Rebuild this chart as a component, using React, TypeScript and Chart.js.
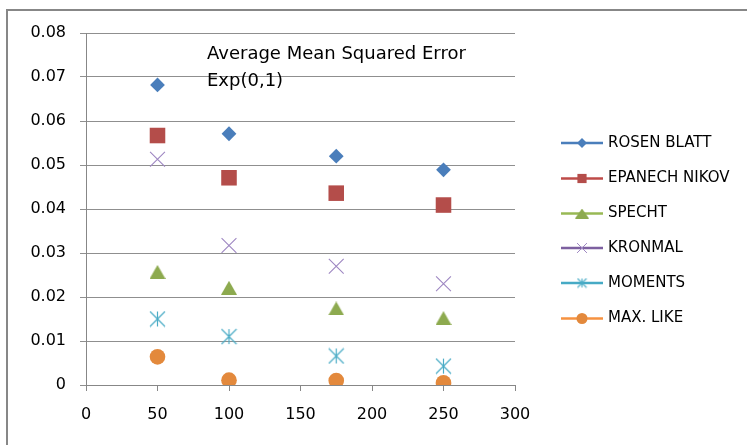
import React, { useEffect, useRef } from 'react';
import { Chart, registerables } from 'chart.js';
import { drawPoint } from 'chart.js/helpers';

Chart.register(...registerables);

// ---- data ----
const xValues = [50, 100, 175, 250];
const seriesNames = ['ROSEN BLATT', 'EPANECH NIKOV', 'SPECHT', 'KRONMAL', 'MOMENTS', 'MAX. LIKE'];
const rosenBlatt = [0.0682, 0.0571, 0.0520, 0.0489];
const epanechNikov = [0.0567, 0.0471, 0.0436, 0.0409];
const specht = [0.0257, 0.0221, 0.0174, 0.0152];
const kronmal = [0.0513, 0.0317, 0.0270, 0.0230];
const moments = [0.0150, 0.0110, 0.0066, 0.0043];
const maxLike = [0.0064, 0.0011, 0.0010, 0.0005];
const titleLines = ['Average Mean Squared Error', 'Exp(0,1)'];
const xTickMin = 0;
const xTickMax = 300;
const xTickStep = 50;
const yTickMin = 0;
const yTickMax = 0.08;
const yTickStep = 0.01;

const FONT = '"DejaVu Sans", "Open Sans", sans-serif';

function makeStar(size: number, color: string, lw: number): HTMLCanvasElement {
  const c = document.createElement('canvas');
  c.width = size;
  c.height = size;
  const ctx = c.getContext('2d')!;
  ctx.strokeStyle = color;
  ctx.lineWidth = lw;
  const m = size / 2;
  const r = size / 2 - 1;
  ctx.beginPath();
  ctx.moveTo(m, m - r);
  ctx.lineTo(m, m + r);
  ctx.moveTo(m - r, m - r);
  ctx.lineTo(m + r, m + r);
  ctx.moveTo(m - r, m + r);
  ctx.lineTo(m + r, m - r);
  ctx.stroke();
  return c;
}

function makeTriangle(w: number, h: number, color: string): HTMLCanvasElement {
  const c = document.createElement('canvas');
  c.width = w;
  c.height = h;
  const ctx = c.getContext('2d')!;
  ctx.fillStyle = color;
  ctx.beginPath();
  ctx.moveTo(w / 2, 0);
  ctx.lineTo(w, h);
  ctx.lineTo(0, h);
  ctx.closePath();
  ctx.fill();
  return c;
}

export default function App() {
  const ref = useRef<HTMLCanvasElement | null>(null);

  useEffect(() => {
    const canvas = ref.current;
    if (!canvas) return;

    const markerColors = ['#4A7EBB', '#B44D4A', '#8DAA4F', '#9E87C2', '#4BACC6', '#E3893C'];
    const lineColors = ['#4A7EBB', '#BE4B48', '#98B954', '#7D60A0', '#46AAC5', '#F69240'];

    const seriesValues = [rosenBlatt, epanechNikov, specht, kronmal, moments, maxLike];
    const markerStyles: any[] = [
      'rectRot',
      'rect',
      makeTriangle(16, 14, markerColors[2]),
      'crossRot',
      makeStar(17, markerColors[4], 1.2),
      'circle',
    ];
    const markerRadius = [7.4, 11, 8, 10.5, 8, 7.8];
    const legendStyles: any[] = [
      'rectRot',
      'rect',
      makeTriangle(14, 10, markerColors[2]),
      'crossRot',
      makeStar(11, markerColors[4], 1.1),
      'circle',
    ];
    const legendRadius = [5, 6.5, 6, 7, 5, 5.5];
    const legendY = [143, 178.5, 213.5, 248, 283, 318.5];

    const decorPlugin = {
      id: 'decor',
      beforeDraw(chart: any) {
        const ctx = chart.ctx;
        ctx.save();
        ctx.fillStyle = '#ffffff';
        ctx.fillRect(0, 0, chart.width, chart.height);
        ctx.restore();
      },
      afterDraw(chart: any) {
        const ctx = chart.ctx;
        ctx.save();
        // outer frame
        ctx.strokeStyle = '#878787';
        ctx.lineWidth = 2;
        ctx.strokeRect(7, 10, 900, 600);
        // title inside plot
        ctx.fillStyle = '#000000';
        ctx.font = `18px ${FONT}`;
        ctx.textBaseline = 'alphabetic';
        ctx.textAlign = 'left';
        ctx.fillText(titleLines[0], 207, 59);
        ctx.fillText(titleLines[1], 207, 86);
        // legend
        for (let i = 0; i < seriesNames.length; i++) {
          const y = legendY[i];
          ctx.strokeStyle = lineColors[i];
          ctx.lineWidth = 2.6;
          ctx.lineCap = 'butt';
          ctx.beginPath();
          ctx.moveTo(561, y);
          ctx.lineTo(603, y);
          ctx.stroke();
          ctx.fillStyle = markerColors[i];
          ctx.strokeStyle = markerColors[i];
          ctx.lineWidth = 1;
          const isLine = legendStyles[i] === 'crossRot';
          drawPoint(
            ctx,
            {
              pointStyle: legendStyles[i],
              radius: legendRadius[i],
              rotation: 0,
              borderWidth: isLine ? 1 : 0,
            } as any,
            582,
            y
          );
          ctx.fillStyle = '#000000';
          ctx.font = `15px ${FONT}`;
          ctx.textBaseline = 'middle';
          ctx.textAlign = 'left';
          ctx.fillText(seriesNames[i], 608, y);
        }
        ctx.restore();
      },
    };

    const datasets = seriesNames.map((name, i) => ({
      label: name,
      data: xValues.map((x, j) => ({ x, y: seriesValues[i][j] })),
      showLine: false,
      pointStyle: markerStyles[i],
      pointRadius: markerRadius[i],
      pointBackgroundColor: markerColors[i],
      pointBorderColor: markerColors[i],
      pointBorderWidth: markerStyles[i] === 'crossRot' ? 1.1 : 0,
      pointHoverRadius: markerRadius[i],
    }));

    const chart = new Chart(canvas, {
      type: 'scatter',
      data: { datasets },
      options: {
        animation: false,
        responsive: false,
        devicePixelRatio: 1,
        layout: { padding: { top: 33, right: 232, bottom: 0, left: 0 } },
        plugins: {
          legend: { display: false },
          tooltip: { enabled: false },
          title: { display: false },
        },
        scales: {
          x: {
            type: 'linear',
            min: xTickMin,
            max: xTickMax,
            ticks: {
              stepSize: xTickStep,
              padding: 14,
              color: '#000000',
              font: { family: FONT, size: 16 },
            },
            grid: {
              drawOnChartArea: false,
              drawTicks: true,
              tickLength: 6,
              color: '#878787',
              lineWidth: 1,
            },
            border: { display: true, color: '#878787', width: 1 },
            afterFit: (scale: any) => {
              scale.height = 60;
            },
          },
          y: {
            type: 'linear',
            min: yTickMin,
            max: yTickMax,
            ticks: {
              stepSize: yTickStep,
              padding: 14,
              color: '#000000',
              font: { family: FONT, size: 16 },
              callback: (v: any) => String(Number(Number(v).toFixed(2))),
            },
            grid: {
              drawOnChartArea: true,
              drawTicks: true,
              tickLength: 6,
              color: '#8f8f8f',
              lineWidth: 1,
            },
            border: { display: true, color: '#878787', width: 1 },
            afterFit: (scale: any) => {
              scale.width = 86;
            },
          },
        },
      } as any,
      plugins: [decorPlugin],
    });

    return () => {
      chart.destroy();
    };
  }, []);

  return (
    <div style={{ position: 'absolute', left: 0, top: 0, width: 747, height: 445 }}>
      <canvas ref={ref} width={747} height={445} style={{ display: 'block', width: 747, height: 445 }} />
    </div>
  );
}
